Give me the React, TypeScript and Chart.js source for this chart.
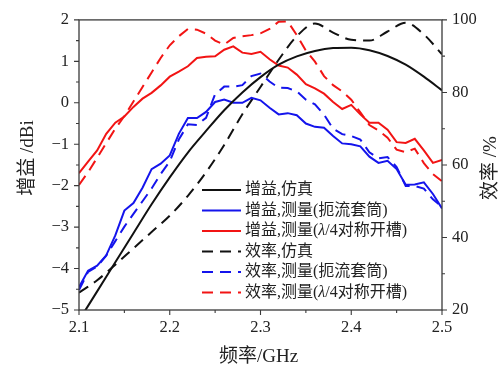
import React, { useEffect, useRef } from "react";
import { Chart, registerables } from "chart.js";

Chart.register(...registerables);

// Measured frequency grid (GHz)
const measFreq = [
  2.1, 2.11, 2.12, 2.13, 2.14, 2.15, 2.16, 2.17, 2.18, 2.19,
  2.2, 2.21, 2.22, 2.23, 2.24, 2.25, 2.26, 2.27, 2.28, 2.29,
  2.3, 2.31, 2.32, 2.33, 2.34, 2.35, 2.36, 2.37, 2.38, 2.39,
  2.4, 2.41, 2.42, 2.43, 2.44, 2.45, 2.46, 2.47, 2.48, 2.49, 2.5,
];
// Simulation frequency grid (GHz)
const simFreq = [
  2.1, 2.12, 2.14, 2.16, 2.18, 2.2, 2.22, 2.24, 2.26, 2.28,
  2.3, 2.32, 2.34, 2.36, 2.38, 2.4, 2.42, 2.44, 2.46, 2.48, 2.5,
];

// Gain (dBi)
const gainSim = [
  -5.25, -4.55, -3.85, -3.15, -2.45, -1.8, -1.2, -0.68, -0.18, 0.25,
  0.62, 0.92, 1.12, 1.25, 1.32, 1.33, 1.27, 1.13, 0.92, 0.63, 0.3,
];
const gainChoke = [
  -4.45, -4.05, -3.93, -3.68, -3.2, -2.6, -2.42, -2.05, -1.6, -1.47,
  -1.27, -0.75, -0.37, -0.37, -0.22, 0.02, 0.08, 0.0, 0.0, 0.12,
  0.06, -0.12, -0.28, -0.25, -0.3, -0.5, -0.58, -0.6, -0.8, -0.98,
  -1.0, -1.05, -1.3, -1.45, -1.4, -1.6, -1.98, -1.97, -1.92, -2.2, -2.55,
];
const gainSlot = [
  -1.7, -1.42, -1.15, -0.75, -0.48, -0.33, -0.1, 0.1, 0.24, 0.42,
  0.63, 0.75, 0.88, 1.08, 1.11, 1.12, 1.28, 1.36, 1.21, 1.18,
  1.23, 1.05, 0.9, 0.85, 0.68, 0.45, 0.35, 0.22, 0.02, -0.15,
  -0.05, -0.28, -0.48, -0.48, -0.65, -0.95, -0.97, -0.87, -1.15, -1.45, -1.38,
];

// Efficiency (%)
const effSim = [
  24.8, 28.2, 32.5, 37, 41.5, 46, 51.5, 58, 65.5, 74,
  81.5, 89, 95.5, 99.0, 96.5, 94.5, 94.3, 96.8, 99.2, 96, 90.5,
];
const effChoke = [
  25.5, 30.5, 32.0, 35.0, 39.0, 43.0, 46.5, 50.0, 53.5, 57.5,
  61.0, 67.0, 71.2, 71.0, 73.0, 79.5, 81.6, 81.6, 82.0, 84.5,
  85.2, 83.0, 81.3, 81.2, 80.3, 78.0, 76.7, 73.9, 70.0, 68.5,
  68.0, 67.0, 63.5, 61.8, 62.2, 59.4, 54.2, 54.2, 53.5, 50.5, 48.5,
];
const effSlot = [
  54.5, 58.0, 62.0, 66.0, 70.0, 73.5, 77.5, 81.5, 85.5, 89.5,
  93.0, 95.5, 97.5, 97.3, 96.2, 94.3, 93.2, 95.0, 95.5, 95.8,
  96.3, 97.5, 99.5, 99.6, 95.8, 91.5, 88.5, 84.5, 82.0, 80.3,
  78.0, 74.5, 71.0, 69.5, 67.5, 64.2, 63.5, 64.5, 60.5, 57.5, 55.5,
];

const seriesLabels = [
  "增益,仿真",
  "增益,测量(扼流套筒)",
  "增益,测量(λ/4对称开槽)",
  "效率,仿真",
  "效率,测量(扼流套筒)",
  "效率,测量(λ/4对称开槽)",
];

const xTitle = "频率/GHz";
const yTitle = "增益 /dBi";
const y2Title = "效率 /%";

const RED = "#f21414";
const BLUE = "#1414ec";
const BLACK = "#111111";
const DASH = [11, 7];

const SERIF = '"Liberation Serif", "Noto Sans CJK SC", serif';

const zip = (xs: number[], ys: number[]) => xs.map((x, i) => ({ x, y: ys[i] }));

const decorPlugin = {
  id: "decor",
  afterDraw(chart: any) {
    const { ctx, chartArea: a, scales } = chart;
    ctx.save();
    // frame
    ctx.strokeStyle = "#3a3a3a";
    ctx.lineWidth = 1.3;
    ctx.strokeRect(a.left, a.top, a.right - a.left, a.bottom - a.top);

    const major = 5;
    const minor = 3;
    ctx.lineWidth = 1.1;
    const drawTicks = (scale: any, step: number, draw: (p: number, len: number) => void) => {
      const vals = scale.ticks.map((t: any) => t.value);
      vals.forEach((v: number, i: number) => {
        draw(scale.getPixelForValue(v), major);
        if (i < vals.length - 1) draw(scale.getPixelForValue(v + step / 2), minor);
      });
    };
    ctx.beginPath();
    drawTicks(scales.x, 0.1, (p, len) => {
      ctx.moveTo(p, a.bottom);
      ctx.lineTo(p, a.bottom + len);
    });
    drawTicks(scales.y, 1, (p, len) => {
      ctx.moveTo(a.left, p);
      ctx.lineTo(a.left - len, p);
    });
    drawTicks(scales.y2, 20, (p, len) => {
      ctx.moveTo(a.right, p);
      ctx.lineTo(a.right + len, p);
    });
    ctx.stroke();

    // axis titles
    ctx.fillStyle = "#222";
    ctx.font = `19px ${SERIF}`;
    ctx.textAlign = "center";
    ctx.textBaseline = "middle";
    ctx.fillText(xTitle, (a.left + a.right) / 2 - 2, 357);
    ctx.save();
    ctx.translate(28, 158);
    ctx.rotate(-Math.PI / 2);
    ctx.fillText(yTitle, 0, 0);
    ctx.restore();
    ctx.save();
    ctx.translate(491, 168);
    ctx.rotate(-Math.PI / 2);
    ctx.fillText(y2Title, 0, 0);
    ctx.restore();

    // legend
    const x0 = 202;
    const x1 = 241;
    const tx = 245;
    const top = 190;
    const gap = 20.5;
    ctx.textAlign = "left";
    chart.data.datasets.forEach((ds: any, i: number) => {
      const y = top + i * gap;
      ctx.save();
      ctx.strokeStyle = ds.borderColor;
      ctx.lineWidth = ds.borderWidth;
      ctx.setLineDash(ds.borderDash || []);
      ctx.beginPath();
      ctx.moveTo(x0, y);
      ctx.lineTo(x1, y);
      ctx.stroke();
      ctx.restore();
      const parts = String(ds.label).split("λ");
      let cx = tx;
      parts.forEach((part: string, k: number) => {
        ctx.font = `16px ${SERIF}`;
        ctx.fillText(part, cx, y);
        cx += ctx.measureText(part).width;
        if (k < parts.length - 1) {
          ctx.font = `italic 16px ${SERIF}`;
          ctx.fillText("λ", cx, y);
          cx += ctx.measureText("λ").width;
        }
      });
    });
    ctx.restore();
  },
};

export default function App() {
  const ref = useRef<HTMLCanvasElement | null>(null);

  useEffect(() => {
    if (!ref.current) return;
    const tickFont = { family: SERIF, size: 16.5 };
    const chart = new Chart(ref.current, {
      type: "line",
      data: {
        datasets: [
          { label: seriesLabels[0], data: zip(simFreq, gainSim), yAxisID: "y", borderColor: BLACK, borderWidth: 2, cubicInterpolationMode: "monotone" },
          { label: seriesLabels[1], data: zip(measFreq, gainChoke), yAxisID: "y", borderColor: BLUE, borderWidth: 2 },
          { label: seriesLabels[2], data: zip(measFreq, gainSlot), yAxisID: "y", borderColor: RED, borderWidth: 2 },
          { label: seriesLabels[3], data: zip(simFreq, effSim), yAxisID: "y2", borderColor: BLACK, borderWidth: 2, borderDash: DASH, cubicInterpolationMode: "monotone" },
          { label: seriesLabels[4], data: zip(measFreq, effChoke), yAxisID: "y2", borderColor: BLUE, borderWidth: 2, borderDash: DASH },
          { label: seriesLabels[5], data: zip(measFreq, effSlot), yAxisID: "y2", borderColor: RED, borderWidth: 2, borderDash: DASH },
        ] as any,
      },
      options: {
        animation: false,
        responsive: false,
        devicePixelRatio: 1,
        elements: { point: { radius: 0 }, line: { tension: 0, fill: false } },
        layout: { padding: { top: 16, left: 0, right: 0, bottom: 0 } },
        plugins: { legend: { display: false }, tooltip: { enabled: false } },
        scales: {
          x: {
            type: "linear",
            min: 2.1,
            max: 2.5,
            grid: { display: false, drawTicks: false },
            border: { display: false },
            ticks: {
              stepSize: 0.1,
              font: tickFont,
              color: "#222",
              padding: 8,
              maxRotation: 0,
              autoSkip: false,
              callback: (v: any) => Number(v).toFixed(1),
            },
            afterFit: (s: any) => { s.height = 60; },
          },
          y: {
            type: "linear",
            position: "left",
            min: -5,
            max: 2,
            grid: { display: false, drawTicks: false },
            border: { display: false },
            ticks: {
              stepSize: 1,
              font: tickFont,
              color: "#222",
              padding: 10,
              autoSkip: false,
              callback: (v: any) => String(Math.round(Number(v))).replace("-", "−"),
            },
            afterFit: (s: any) => { s.width = 79; },
          },
          y2: {
            type: "linear",
            position: "right",
            min: 20,
            max: 100,
            grid: { display: false, drawTicks: false },
            border: { display: false },
            ticks: {
              stepSize: 20,
              font: tickFont,
              color: "#222",
              padding: 10,
              autoSkip: false,
            },
            afterFit: (s: any) => { s.width = 61; },
          },
        },
      } as any,
      plugins: [decorPlugin],
    });
    return () => chart.destroy();
  }, []);

  return (
    <div style={{ position: "absolute", left: 0, top: 0, width: 503, height: 370, background: "#fff" }}>
      <canvas ref={ref} width={503} height={370} style={{ display: "block" }} />
    </div>
  );
}
